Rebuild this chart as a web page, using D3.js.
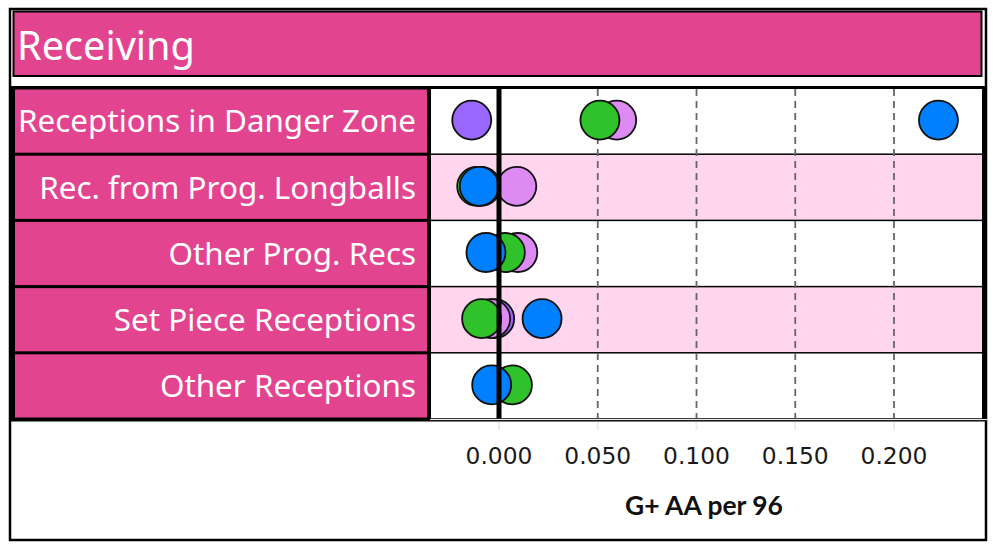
<!DOCTYPE html>
<html>
<head>
<meta charset="utf-8">
<script src="https://cdn.jsdelivr.net/npm/d3@7"></script>
<style>
  html, body { margin: 0; padding: 0; background: #fff; }
  svg { display: block; }
</style>
</head>
<body>
<svg id="chart" width="994" height="549"></svg>
<script>
// ---------- data ----------
const titleText = "Receiving";
const categories = [
  "Receptions in Danger Zone",
  "Rec. from Prog. Longballs",
  "Other Prog. Recs",
  "Set Piece Receptions",
  "Other Receptions"
];
const seriesNames = ["Purple", "Lilac", "Green", "Blue"];
const seriesColors = ["#9966ff", "#dd8bf2", "#30c22a", "#0080ff"];
const purpleValues = [-0.0138, -0.0091, null, -0.0022, null];
const lilacValues  = [0.0596, 0.0090, 0.0095, -0.0042, null];
const greenValues  = [0.0511, -0.0113, 0.0032, -0.0088, 0.0068];
const blueValues   = [0.2225, -0.0100, -0.0066, 0.0218, -0.0037];
const tickValues = [0, 0.05, 0.10, 0.15, 0.20];
const axisTitle = "G+ AA per 96";

const seriesValues = [purpleValues, lilacValues, greenValues, blueValues];

// ---------- layout ----------
const PINK = "#e2448f";
const BAND_PINK = "#ffd6ee";
const svg = d3.select("#chart");

const x = d3.scaleLinear().domain([0, 0.2]).range([499, 894]);
const y = d3.scaleBand().domain(categories).range([88, 419]).paddingInner(0);
const panelL = 430, panelR = 982;

// outer frame
svg.append("rect").attr("x", 10).attr("y", 9).attr("width", 976).attr("height", 531)
  .attr("fill", "#fff").attr("stroke", "#000").attr("stroke-width", 2.5);

// title box
svg.append("rect").attr("x", 13.5).attr("y", 11.5).attr("width", 968).attr("height", 64.5)
  .attr("fill", PINK).attr("stroke", "#000").attr("stroke-width", 2);
const title = svg.append("text").attr("x", 17).attr("y", 60)
  .attr("fill", "#fff").style("font-family", "'Noto Sans', sans-serif")
  .style("font-size", "36px").text(titleText);

// black background of table region
svg.append("rect").attr("x", 9).attr("y", 86).attr("width", 978).attr("height", 335.5)
  .attr("fill", "#000");

// label cells
const rows = svg.append("g");
rows.selectAll("rect.lab").data(categories).join("rect").attr("class", "lab")
  .attr("x", 15).attr("width", 412)
  .attr("y", d => y(d) + 1.5).attr("height", y.bandwidth() - 3)
  .attr("fill", PINK);

// panel cells
rows.selectAll("rect.cell").data(categories).join("rect").attr("class", "cell")
  .attr("x", panelL + 1).attr("width", panelR - panelL - 1)
  .attr("y", (d, i) => y(d) + (i === 0 ? 1 : 0.75))
  .attr("height", (d, i) => y.bandwidth() - (i === 0 ? 1.75 : 1.5))
  .attr("fill", (d, i) => i % 2 === 1 ? BAND_PINK : "#fff");

// bottom double line gap
svg.append("line").attr("x1", panelL).attr("x2", 987).attr("y1", 419.6).attr("y2", 419.6)
  .attr("stroke", "#fff").attr("stroke-width", 1);

// row labels
const labels = rows.selectAll("text.lab").data(categories).join("text").attr("class", "lab")
  .attr("x", 416).attr("text-anchor", "end")
  .attr("fill", "#fff").style("font-family", "'Noto Sans', sans-serif")
  .style("font-size", "28px")
  .text(d => d);

// gridlines
const grid = svg.append("g");
grid.selectAll("line").data(tickValues.filter(v => v !== 0)).join("line")
  .attr("x1", d => x(d)).attr("x2", d => x(d))
  .attr("y1", 89).attr("y2", 418)
  .attr("stroke", "#666").attr("stroke-width", 1.8).attr("stroke-dasharray", "7,5");

// faint ticks below panel
svg.append("g").selectAll("line").data(tickValues).join("line")
  .attr("x1", d => x(d)).attr("x2", d => x(d)).attr("y1", 422).attr("y2", 430)
  .attr("stroke", "#ececec").attr("stroke-width", 2);

// dots
const dots = [];
seriesValues.forEach((vals, s) => {
  vals.forEach((v, i) => {
    if (v !== null) dots.push({ s, cat: categories[i], v });
  });
});
svg.append("g").selectAll("circle").data(dots).join("circle")
  .attr("cx", d => x(d.v))
  .attr("cy", d => y(d.cat) + y.bandwidth() / 2 - 1)
  .attr("r", 19.5)
  .attr("fill", d => seriesColors[d.s])
  .attr("stroke", "#111").attr("stroke-width", 1.8);

// zero line
svg.append("line").attr("x1", x(0)).attr("x2", x(0)).attr("y1", 88).attr("y2", 418.5)
  .attr("stroke", "#000").attr("stroke-width", 5);

// tick labels
const tickLabels = svg.append("g").selectAll("text").data(tickValues).join("text")
  .attr("x", d => x(d)).attr("y", 464).attr("text-anchor", "middle")
  .attr("fill", "#1a1a1a").style("font-family", "'DejaVu Sans', sans-serif")
  .style("font-size", "24px").text(d => d3.format(".3f")(d));

// axis title
const at = svg.append("text").attr("x", 704).attr("y", 515).attr("text-anchor", "middle")
  .attr("fill", "#111").style("font-family", "Lato, sans-serif").style("font-weight", "bold")
  .style("font-size", "20px").text(axisTitle);

// fit font sizes to measured widths from reference
function fit(sel, node, target, base) {
  const w = node.getComputedTextLength();
  const fs = base * target / w;
  sel.style("font-size", fs + "px");
  return fs;
}
fit(title, title.node(), 178, 36);
const lfs = fit(labels, labels.nodes()[0], 398, 28);
labels.attr("y", d => y(d) + y.bandwidth() / 2 + lfs * 0.357);
fit(tickLabels, tickLabels.nodes()[0], 67, 24);
fit(at, at.node(), 158, 20);
</script>
</body>
</html>
